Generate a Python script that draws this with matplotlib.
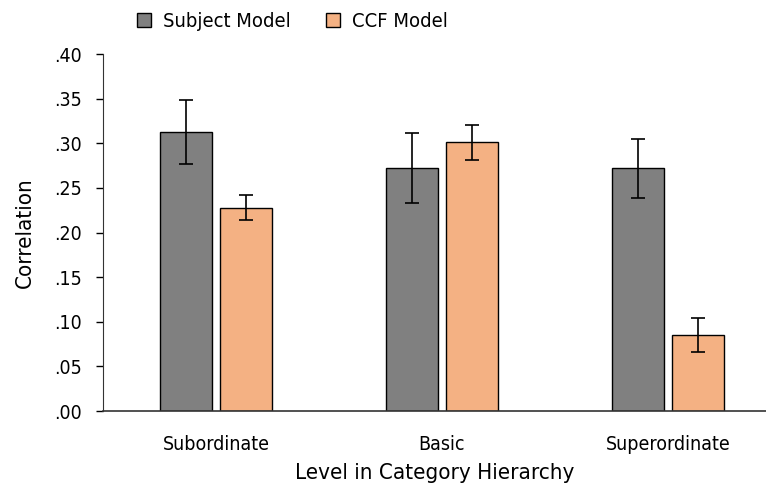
import numpy as np
import matplotlib
matplotlib.use('Agg')
import matplotlib.pyplot as plt
from matplotlib.patches import Patch

plt.rcParams['font.family'] = ['DejaVu Sans']
plt.rcParams['font.stretch'] = 'condensed'

# 数据
levels = ['Subordinate', 'Basic', 'Superordinate']
subject_vals = [0.313, 0.272, 0.272]
subject_err = [0.036, 0.039, 0.033]
ccf_vals = [0.228, 0.301, 0.085]
ccf_err = [0.014, 0.020, 0.019]
yticks = [0.0, 0.05, 0.10, 0.15, 0.20, 0.25, 0.30, 0.35, 0.40]
ytick_labels = ['.00', '.05', '.10', '.15', '.20', '.25', '.30', '.35', '.40']

fig = plt.figure(figsize=(7.66, 4.87), dpi=100)
ax = fig.add_axes([0.1345, 0.156, 0.8655, 0.733])

x = np.arange(len(levels))
w = 0.23
off = 0.1327
ekw = dict(elinewidth=1.2, capthick=1.2, ecolor='black')
ax.bar(x - off, subject_vals, width=w, color='#808080', edgecolor='black', linewidth=1,
       yerr=subject_err, capsize=5, error_kw=ekw)
ax.bar(x + off, ccf_vals, width=w, color='#F4B183', edgecolor='black', linewidth=1,
       yerr=ccf_err, capsize=5, error_kw=ekw)

ax.set_xlim(-0.5, 2.434)
ax.set_ylim(0, 0.40)
ax.set_yticks(yticks)
ax.set_yticklabels(ytick_labels, fontsize=14)
ax.set_xticks(x)
ax.set_xticklabels(levels, fontsize=14)
ax.tick_params(axis='x', length=0, pad=17)
ax.tick_params(axis='y', length=5, width=1, pad=10)

for s in ['top', 'right']:
    ax.spines[s].set_visible(False)
ax.spines['left'].set_color('#333333')
ax.spines['bottom'].set_color('#333333')
ax.spines['bottom'].set_linewidth(1.2)

ax.set_ylabel('Correlation', fontsize=16, labelpad=14)
ax.set_xlabel('Level in Category Hierarchy', fontsize=16, labelpad=7)

handles = [Patch(facecolor='#808080', edgecolor='black', label='Subject Model'),
           Patch(facecolor='#F4B183', edgecolor='black', label='CCF Model')]
fig.legend(handles=handles, loc='upper left', bbox_to_anchor=(0.155, 1.012), ncol=2,
           frameon=False, fontsize=14.5, handlelength=0.7, handleheight=0.7,
           handletextpad=0.6, columnspacing=1.75)

plt.savefig('out.png', dpi=100)
